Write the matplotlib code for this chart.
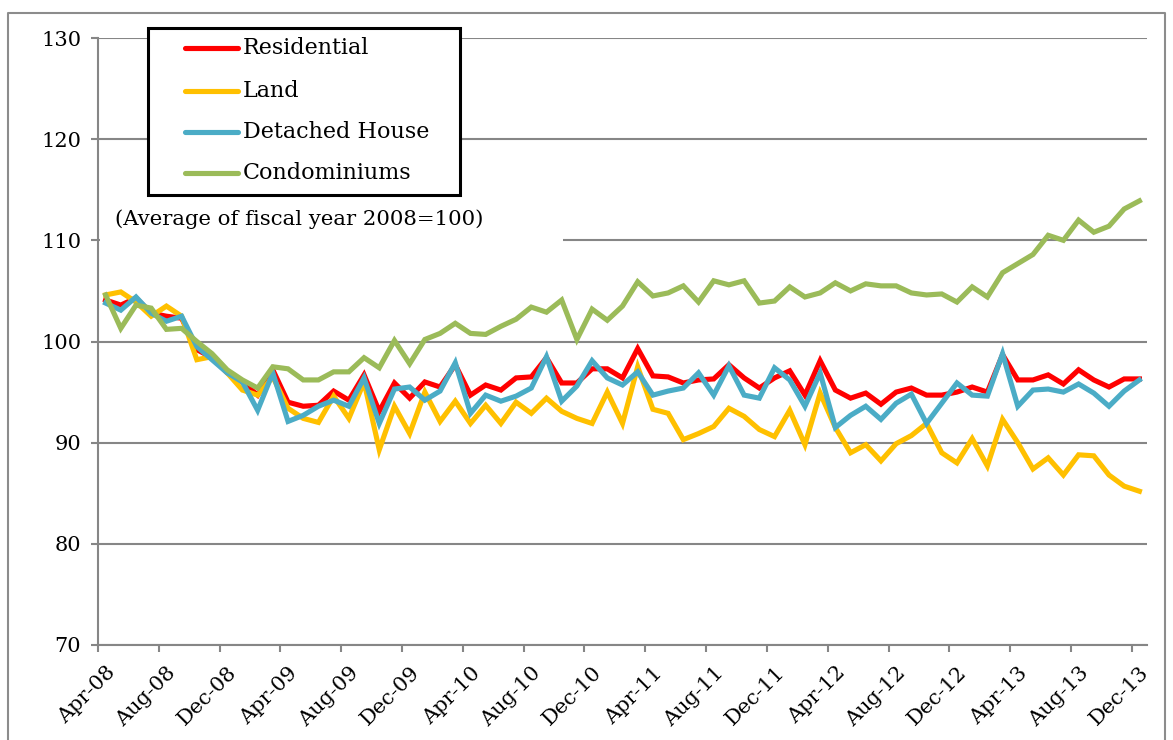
import matplotlib
matplotlib.use('Agg')
import matplotlib.pyplot as plt
from matplotlib.patches import Rectangle
from matplotlib.lines import Line2D
import numpy as np
import pandas as pd

# ---- data ----
months = pd.date_range('2008-04-01', periods=69, freq='MS').strftime('%b-%y').tolist()

residential = [104.1, 103.6, 104.3, 102.8, 102.5, 102.3, 99.2, 98.4, 96.9, 96.0, 94.7, 97.2,
               94.0, 93.6, 93.7, 95.1, 94.2, 96.7, 93.1, 95.9, 94.4, 96.0, 95.5, 97.7,
               94.7, 95.7, 95.2, 96.4, 96.5, 98.4, 95.9, 95.9, 97.3, 97.3, 96.4, 99.3,
               96.6, 96.5, 95.9, 96.2, 96.3, 97.7, 96.4, 95.4, 96.4, 97.1, 94.7, 98.1,
               95.2, 94.4, 94.9, 93.8, 95.0, 95.4, 94.7, 94.7, 95.0, 95.5, 95.0, 98.7,
               96.2, 96.2, 96.7, 95.8, 97.2, 96.2, 95.5, 96.3, 96.3]
land = [104.6, 104.9, 103.9, 102.5, 103.5, 102.5, 98.2, 98.5, 96.9, 95.2, 94.7, 96.5,
        93.4, 92.4, 92.0, 94.6, 92.4, 96.0, 89.3, 93.6, 90.9, 95.0, 92.1, 94.1,
        91.9, 93.7, 91.9, 94.0, 92.9, 94.4, 93.1, 92.4, 91.9, 95.0, 91.9, 97.5,
        93.3, 92.9, 90.3, 90.9, 91.6, 93.4, 92.6, 91.3, 90.6, 93.2, 89.8, 94.9,
        91.5, 89.0, 89.8, 88.2, 89.9, 90.7, 91.9, 89.0, 88.0, 90.4, 87.7, 92.3,
        90.0, 87.4, 88.5, 86.8, 88.8, 88.7, 86.8, 85.7, 85.2]
detached = [103.8, 103.1, 104.4, 102.8, 102.0, 102.5, 99.5, 98.2, 96.9, 96.0, 93.2, 96.9,
            92.1, 92.7, 93.6, 94.2, 93.6, 96.4, 91.9, 95.3, 95.5, 94.2, 95.1, 97.9,
            92.9, 94.7, 94.1, 94.6, 95.4, 98.5, 94.1, 95.6, 98.1, 96.4, 95.7, 97.0,
            94.7, 95.1, 95.4, 96.9, 94.7, 97.6, 94.7, 94.4, 97.4, 96.2, 93.6, 96.9,
            91.5, 92.7, 93.6, 92.3, 93.9, 94.8, 91.9, 93.9, 95.9, 94.7, 94.6, 98.8,
            93.6, 95.2, 95.3, 95.0, 95.8, 94.9, 93.6, 95.1, 96.2]
condominiums = [104.6, 101.3, 103.6, 103.3, 101.2, 101.3, 100.0, 98.8, 97.2, 96.2, 95.4, 97.5,
                97.3, 96.2, 96.2, 97.0, 97.0, 98.4, 97.4, 100.1, 97.8, 100.2, 100.8, 101.8,
                100.8, 100.7, 101.5, 102.2, 103.4, 102.9, 104.1, 100.2, 103.2, 102.1, 103.5, 105.9,
                104.5, 104.8, 105.5, 103.9, 106.0, 105.6, 106.0, 103.8, 104.0, 105.4, 104.4, 104.8,
                105.8, 105.0, 105.7, 105.5, 105.5, 104.8, 104.6, 104.7, 103.9, 105.4, 104.4, 106.8,
                107.7, 108.6, 110.5, 110.0, 112.0, 110.8, 111.4, 113.1, 113.9]

series_names = ['Residential', 'Land', 'Detached House', 'Condominiums']
series_values = [residential, land, detached, condominiums]
series_colors = ['#FF0000', '#FFC000', '#4BACC6', '#9BBB59']
note = '(Average of fiscal year 2008=100)'

# ---- figure ----
W, H = 1173, 740
fig = plt.figure(figsize=(W / 100, H / 100), dpi=100)
FONT = 'DejaVu Serif'
GRID = '#868686'

def fx(x):
    return x / W

def fy(y):
    return 1 - y / H

ax = fig.add_axes([fx(98), fy(645), fx(1147) - fx(98), fy(38) - fy(645)])
x = np.arange(len(months))
for name, vals, col in zip(series_names, series_values, series_colors):
    ax.plot(x, vals, color=col, lw=3.7, solid_joinstyle='miter', label=name, zorder=3)

ax.set_xlim(-0.5, len(months) - 0.5)
ax.set_ylim(70, 130)
ax.set_yticks(np.arange(70, 131, 10))
ax.yaxis.grid(True, color=GRID, lw=1.5)
ax.set_axisbelow(True)
for s in ['top', 'right']:
    ax.spines[s].set_visible(False)
for s in ['left', 'bottom']:
    ax.spines[s].set_color(GRID)
    ax.spines[s].set_linewidth(1.5)

# major ticks at category boundaries (no labels), minor at centers with labels
ax.set_xticks(np.arange(-0.5, len(months) - 0.5, 4))
ax.set_xticklabels([])
ax.set_xticks(np.arange(0, len(months), 4), minor=True)
ax.set_xticklabels([months[i] for i in range(0, len(months), 4)], minor=True,
                   rotation=45, ha='right', va='top', rotation_mode='anchor',
                   fontsize=15, family=FONT)
ax.tick_params(axis='x', which='major', length=5, width=1.5, color=GRID, direction='out')
ax.tick_params(axis='x', which='minor', length=0, pad=13)
ax.tick_params(axis='y', length=5, width=1.5, color=GRID, direction='out', pad=7,
               labelsize=15)
for t in ax.get_yticklabels():
    t.set_family(FONT)

# outer chart border
fig.add_artist(Line2D([fx(8), fx(8), fx(1165), fx(1165)], [fy(760), fy(13), fy(13), fy(760)],
                      color='#8c8c8c', lw=1.5))

# note with white box covering gridline
fig.add_artist(Rectangle((fx(100), fy(246)), fx(563) - fx(100), fy(198) - fy(246),
                         facecolor='white', edgecolor='none', zorder=5))
fig.text(fx(115), fy(219), note, fontsize=15.3, family=FONT, va='center', ha='left', zorder=6)

# legend box
fig.add_artist(Rectangle((fx(148), fy(195)), fx(460) - fx(148), fy(28) - fy(195),
                         facecolor='white', edgecolor='black', lw=2.2, zorder=7))
rows = [48, 91, 132, 173]
for name, col, ry in zip(series_names, series_colors, rows):
    fig.add_artist(Line2D([fx(185), fx(238)], [fy(ry), fy(ry)], color=col, lw=3.7,
                          solid_capstyle='round', zorder=8))
    fig.text(fx(243), fy(ry), name, fontsize=16, family=FONT, va='center', ha='left', zorder=8)

fig.savefig('out.png', dpi=100)
